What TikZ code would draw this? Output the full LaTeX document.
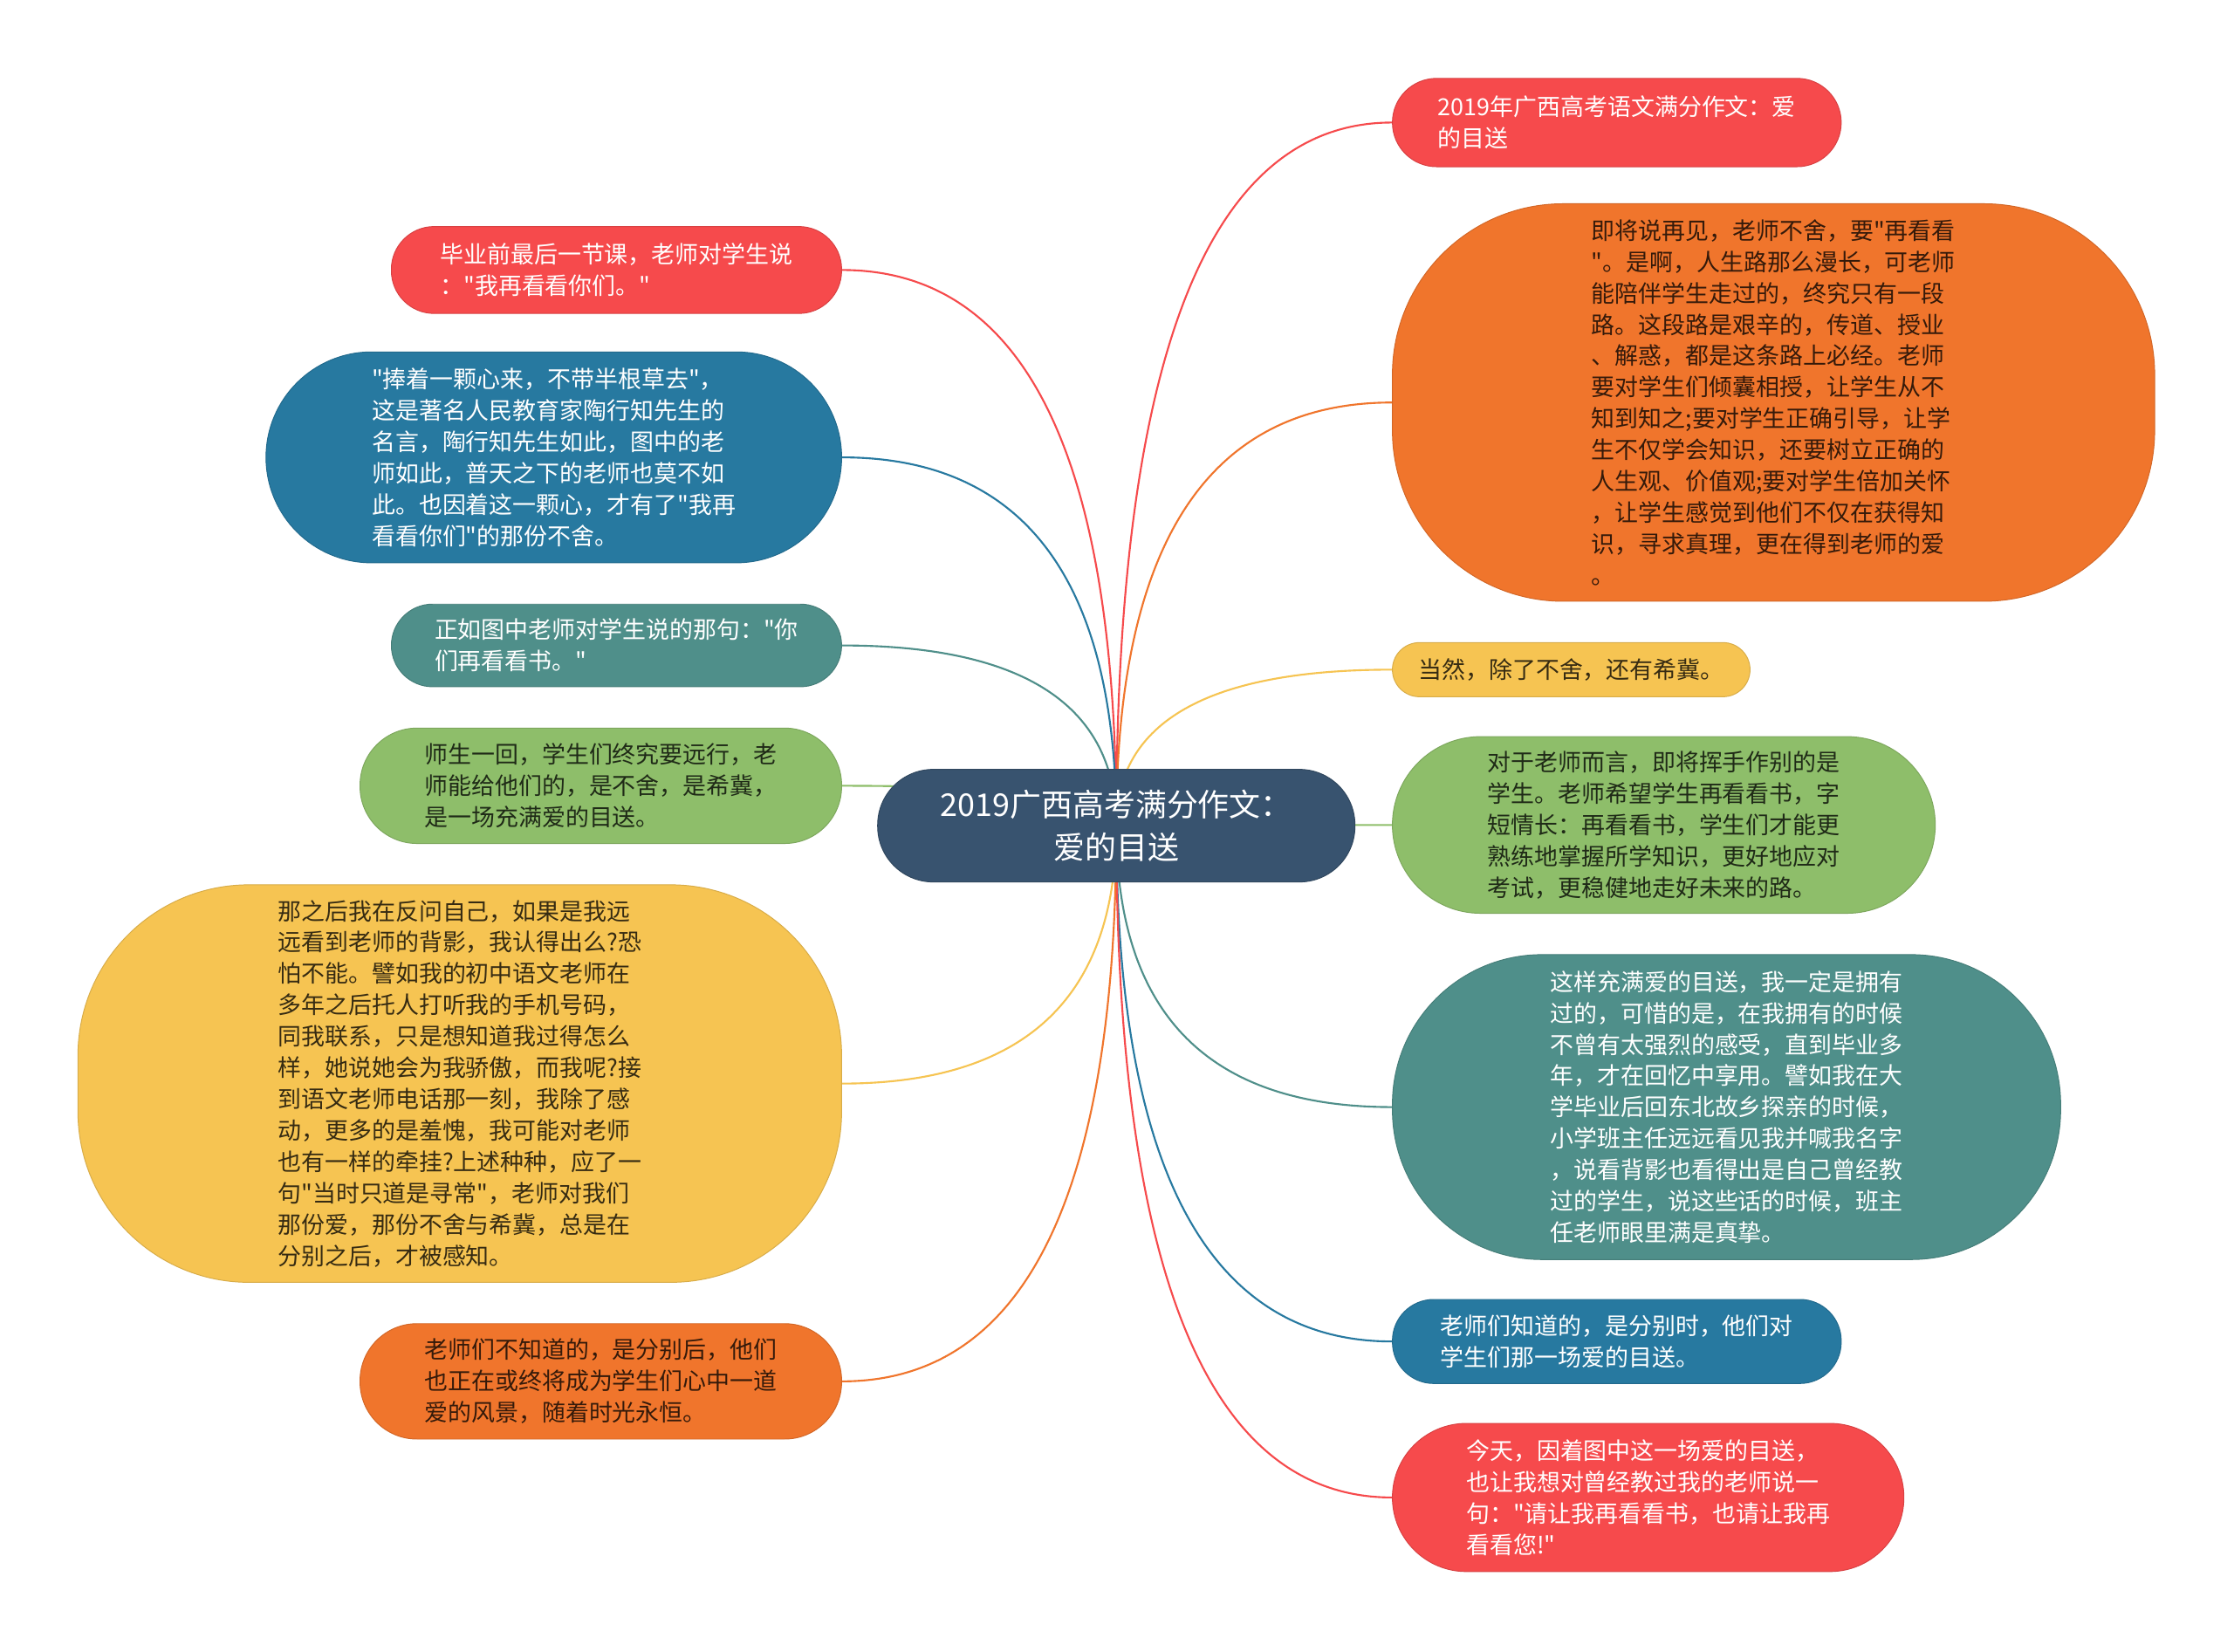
\documentclass[tikz,border=0pt]{standalone}
\usepackage{fontspec}
\setmainfont{Noto Sans CJK SC}[Ligatures=TeXOff]
\usepackage{xcolor}
\usepackage{tikz}
\usetikzlibrary{backgrounds}
\definecolor{mapred}{RGB}{246,74,76}
\definecolor{maporange}{RGB}{240,117,44}
\definecolor{mapyellow}{RGB}{246,196,82}
\definecolor{mapgreen}{RGB}{142,190,106}
\definecolor{mapteal}{RGB}{79,143,138}
\definecolor{mapblue}{RGB}{39,121,160}
\definecolor{rootslate}{RGB}{56,83,111}

\begin{document}
\begin{tikzpicture}[
    x=1pt, y=-1pt,
    rootbox/.style={rectangle, rounded corners=39pt, fill=rootslate, draw=rootslate!85!black, line width=0.6pt, text=white, align=center, minimum width=335pt, minimum height=79pt, font=\fontsize{22}{30}\selectfont},
    leafbox/.style={rectangle, fill=#1, draw=#1!88!black, line width=0.6pt, align=left, inner sep=0pt, font=\fontsize{16.5}{22}\selectfont},
    deepleaf/.style={leafbox=#1, text=white},
    paleleaf/.style={leafbox=#1, text=#1!22!black},
    branch/.style={draw=#1, line width=1.3pt}
]

\useasboundingbox (0,0) rectangle (1568,1159);

% Root
\node[rootbox] (root) at (783.5,579.5) {2019广西高考满分作文：\\爱的目送};

% Right side
\node[deepleaf=mapred, anchor=west, minimum width=315pt, minimum height=62pt, rounded corners=31pt] (r1) at (977,86) {2019年广西高考语文满分作文：爱\\的目送};
\node[paleleaf=maporange, anchor=west, minimum width=535pt, minimum height=279pt, rounded corners=120pt] (r2) at (977,282.5) {即将说再见，老师不舍，要"再看看\\"。是啊，人生路那么漫长，可老师\\能陪伴学生走过的，终究只有一段\\路。这段路是艰辛的，传道、授业\\、解惑，都是这条路上必经。老师\\要对学生们倾囊相授，让学生从不\\知到知之;要对学生正确引导，让学\\生不仅学会知识，还要树立正确的\\人生观、价值观;要对学生倍加关怀\\，让学生感觉到他们不仅在获得知\\识，寻求真理，更在得到老师的爱\\。};
\node[paleleaf=mapyellow, anchor=west, minimum width=251pt, minimum height=38pt, rounded corners=19pt] (r3) at (977,470) {当然，除了不舍，还有希冀。};
\node[paleleaf=mapgreen, anchor=west, minimum width=381pt, minimum height=124pt, rounded corners=62pt] (r4) at (977,579) {对于老师而言，即将挥手作别的是\\学生。老师希望学生再看看书，字\\短情长：再看看书，学生们才能更\\熟练地掌握所学知识，更好地应对\\考试，更稳健地走好未来的路。};
\node[deepleaf=mapteal, anchor=west, minimum width=469pt, minimum height=214pt, rounded corners=105pt] (r5) at (977,777) {这样充满爱的目送，我一定是拥有\\过的，可惜的是，在我拥有的时候\\不曾有太强烈的感受，直到毕业多\\年，才在回忆中享用。譬如我在大\\学毕业后回东北故乡探亲的时候，\\小学班主任远远看见我并喊我名字\\，说看背影也看得出是自己曾经教\\过的学生，说这些话的时候，班主\\任老师眼里满是真挚。};
\node[deepleaf=mapblue, anchor=west, minimum width=315pt, minimum height=59pt, rounded corners=29pt] (r6) at (977,941.5) {老师们知道的，是分别时，他们对\\学生们那一场爱的目送。};
\node[deepleaf=mapred, anchor=west, minimum width=359pt, minimum height=104pt, rounded corners=52pt] (r7) at (977,1051) {今天，因着图中这一场爱的目送，\\也让我想对曾经教过我的老师说一\\句："请让我再看看书，也请让我再\\看看您!"};

% Left side
\node[deepleaf=mapred, anchor=east, minimum width=316pt, minimum height=61pt, rounded corners=30pt] (l1) at (591,189.5) {毕业前最后一节课，老师对学生说\\："我再看看你们。"};
\node[deepleaf=mapblue, anchor=east, minimum width=404pt, minimum height=148pt, rounded corners=74pt] (l2) at (591,321) {"捧着一颗心来，不带半根草去"，\\这是著名人民教育家陶行知先生的\\名言，陶行知先生如此，图中的老\\师如此，普天之下的老师也莫不如\\此。也因着这一颗心，才有了"我再\\看看你们"的那份不舍。};
\node[deepleaf=mapteal, anchor=east, minimum width=316pt, minimum height=58pt, rounded corners=29pt] (l3) at (591,453) {正如图中老师对学生说的那句："你\\们再看看书。"};
\node[paleleaf=mapgreen, anchor=east, minimum width=338pt, minimum height=81pt, rounded corners=40pt] (l4) at (591,551.5) {师生一回，学生们终究要远行，老\\师能给他们的，是不舍，是希冀，\\是一场充满爱的目送。};
\node[paleleaf=mapyellow, anchor=east, minimum width=536pt, minimum height=279pt, rounded corners=120pt] (l5) at (591,760.5) {那之后我在反问自己，如果是我远\\远看到老师的背影，我认得出么?恐\\怕不能。譬如我的初中语文老师在\\多年之后托人打听我的手机号码，\\同我联系，只是想知道我过得怎么\\样，她说她会为我骄傲，而我呢?接\\到语文老师电话那一刻，我除了感\\动，更多的是羞愧，我可能对老师\\也有一样的牵挂?上述种种，应了一\\句"当时只道是寻常"，老师对我们\\那份爱，那份不舍与希冀，总是在\\分别之后，才被感知。};
\node[paleleaf=maporange, anchor=east, minimum width=338pt, minimum height=81pt, rounded corners=40pt] (l6) at (591,969.5) {老师们不知道的，是分别后，他们\\也正在或终将成为学生们心中一道\\爱的风景，随着时光永恒。};

% Branches behind the boxes
\begin{scope}[on background layer]
    \fill[white] (0,0) rectangle (1568,1159);
    \draw[branch=mapred] (root.center) .. controls +(0,-329) and +(-129,0) .. (r1.west);
    \draw[branch=maporange] (root.center) .. controls +(0,-198) and +(-129,0) .. (r2.west);
    \draw[branch=mapyellow] (root.center) .. controls +(0,-73) and +(-129,0) .. (r3.west);
    \draw[branch=mapgreen] (root.center) -- (r4.west);
    \draw[branch=mapteal] (root.center) .. controls +(0,132) and +(-129,0) .. (r5.west);
    \draw[branch=mapblue] (root.center) .. controls +(0,241) and +(-129,0) .. (r6.west);
    \draw[branch=mapred] (root.center) .. controls +(0,314) and +(-129,0) .. (r7.west);
    \draw[branch=mapred] (root.center) .. controls +(0,-260) and +(128,0) .. (l1.east);
    \draw[branch=mapblue] (root.center) .. controls +(0,-172) and +(128,0) .. (l2.east);
    \draw[branch=mapteal] (root.center) .. controls +(0,-84) and +(128,0) .. (l3.east);
    \draw[branch=mapgreen] (root.center) .. controls +(0,-19) and +(128,0) .. (l4.east);
    \draw[branch=mapyellow] (root.center) .. controls +(0,121) and +(128,0) .. (l5.east);
    \draw[branch=maporange] (root.center) .. controls +(0,260) and +(128,0) .. (l6.east);
\end{scope}

\end{tikzpicture}
\end{document}
